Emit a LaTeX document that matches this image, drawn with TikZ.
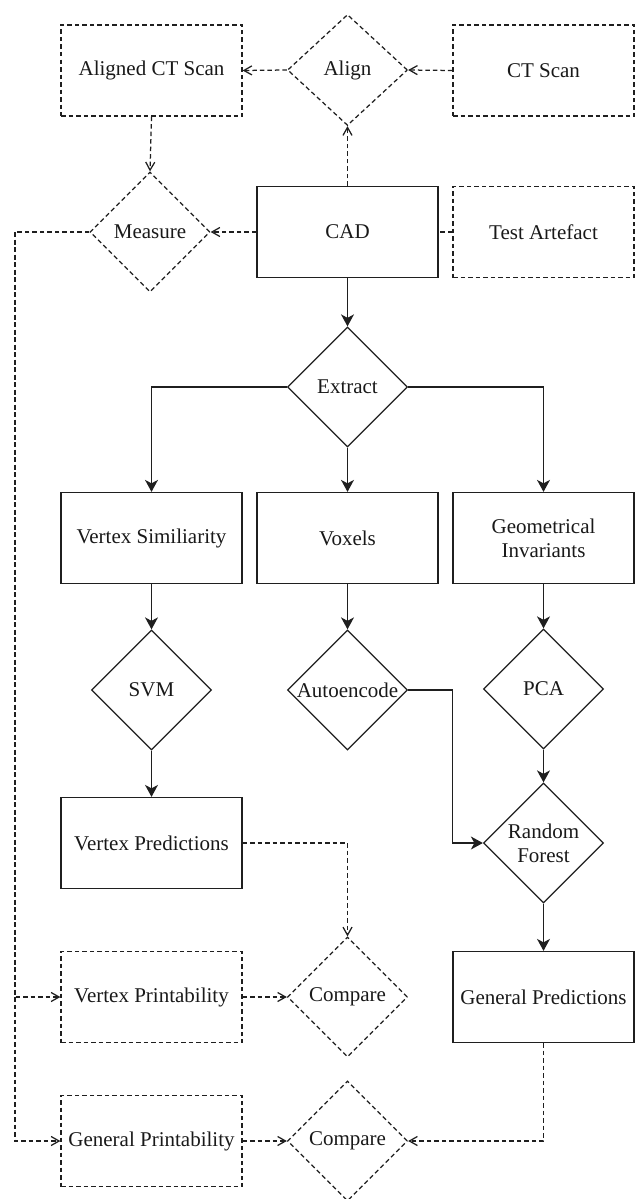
\documentclass[tikz,border=0pt]{standalone}
\usepackage{fontspec}
\setmainfont{Liberation Serif}
\usetikzlibrary{shapes.geometric,arrows.meta}
\begin{document}
\begin{tikzpicture}[x=1pt,y=-1pt,
  base/.style={font=\fontsize{21}{24}\selectfont, align=center, inner sep=0pt, line width=1.25pt, draw=black!88, text=black!90},
  box/.style={base, rectangle, minimum width=181pt, minimum height=91pt},
  dia/.style={base, diamond, aspect=1, minimum width=120pt, minimum height=120pt},
  dsh/.style={dash pattern=on 4.5pt off 3pt},
  sarr/.style={line width=1.25pt, draw=black!88, -{Stealth[length=12pt,width=13pt,inset=3.5pt]}},
  darr/.style={line width=1.25pt, draw=black!88, dsh, -{Straight Barb[length=8pt,width=9pt]}},
  dline/.style={line width=1.25pt, draw=black!88, dsh},
]
\useasboundingbox (0,0) rectangle (635,1199);
% top row
\node[box,dsh] (aligned) at (151.5,70.5) {Aligned CT Scan};
\node[dia,dsh,minimum height=111pt] (align) at (347.5,70) {Align};
\node[box,dsh] (ct) at (543.5,70.5) {CT Scan};
% second row
\node[dia,dsh] (measure) at (150,232) {Measure};
\node[box] (cad) at (347.5,232) {CAD};
\node[box,dsh] (test) at (543.5,232) {Test Artefact};
% extract
\node[dia] (extract) at (347.5,387) {Extract};
% features
\node[box] (vsim) at (151.5,538) {Vertex Similiarity};
\node[box] (voxels) at (347.5,538) {Voxels};
\node[box] (geom) at (543.5,538) {Geometrical\\Invariants};
% models
\node[dia] (svm) at (151.5,690) {SVM};
\node[dia] (auto) at (347.5,690) {Autoencode};
\node[dia] (pca) at (543.5,689) {PCA};
% predictions
\node[box] (vpred) at (151.5,843) {Vertex Predictions};
\node[dia] (rf) at (543.5,843) {Random\\Forest};
% comparisons
\node[box,dsh] (vprint) at (151.5,997) {Vertex Printability};
\node[dia,dsh] (cmp1) at (347.5,997) {Compare};
\node[box] (gpred) at (543.5,997) {General Predictions};
\node[box,dsh] (gprint) at (151.5,1141) {General Printability};
\node[dia,dsh] (cmp2) at (347.5,1141) {Compare};
\coordinate (lx) at (15,232);

% dashed connectors
\draw[darr] (ct.west) -- (align.east);
\draw[darr] (align.west) -- (aligned.east);
\draw[darr] (cad.north) -- (align.south);
\draw[darr] (aligned.south) -- (measure.north);
\draw[darr] (cad.west) -- (measure.east);
\draw[dline] (test.west) -- (cad.east);
\draw[darr] (measure.west) -- (lx) |- (vprint.west);
\draw[darr] (lx) |- (gprint.west);
\draw[darr] (vpred.east) -| (cmp1.north);
\draw[darr] (vprint.east) -- (cmp1.west);
\draw[darr] (gprint.east) -- (cmp2.west);
\draw[darr] (gpred.south) |- (cmp2.east);

% solid connectors
\draw[sarr] (cad.south) -- (extract.north);
\draw[sarr] (extract.west) -| (vsim.north);
\draw[sarr] (extract.south) -- (voxels.north);
\draw[sarr] (extract.east) -| (geom.north);
\draw[sarr] (vsim.south) -- (svm.north);
\draw[sarr] (voxels.south) -- (auto.north);
\draw[sarr] (geom.south) -- (pca.north);
\draw[sarr] (svm.south) -- (vpred.north);
\draw[sarr] (pca.south) -- (rf.north);
\draw[sarr] (auto.east) -- (auto.east -| geom.west) |- (rf.west);
\draw[sarr] (rf.south) -- (gpred.north);
\end{tikzpicture}
\end{document}
